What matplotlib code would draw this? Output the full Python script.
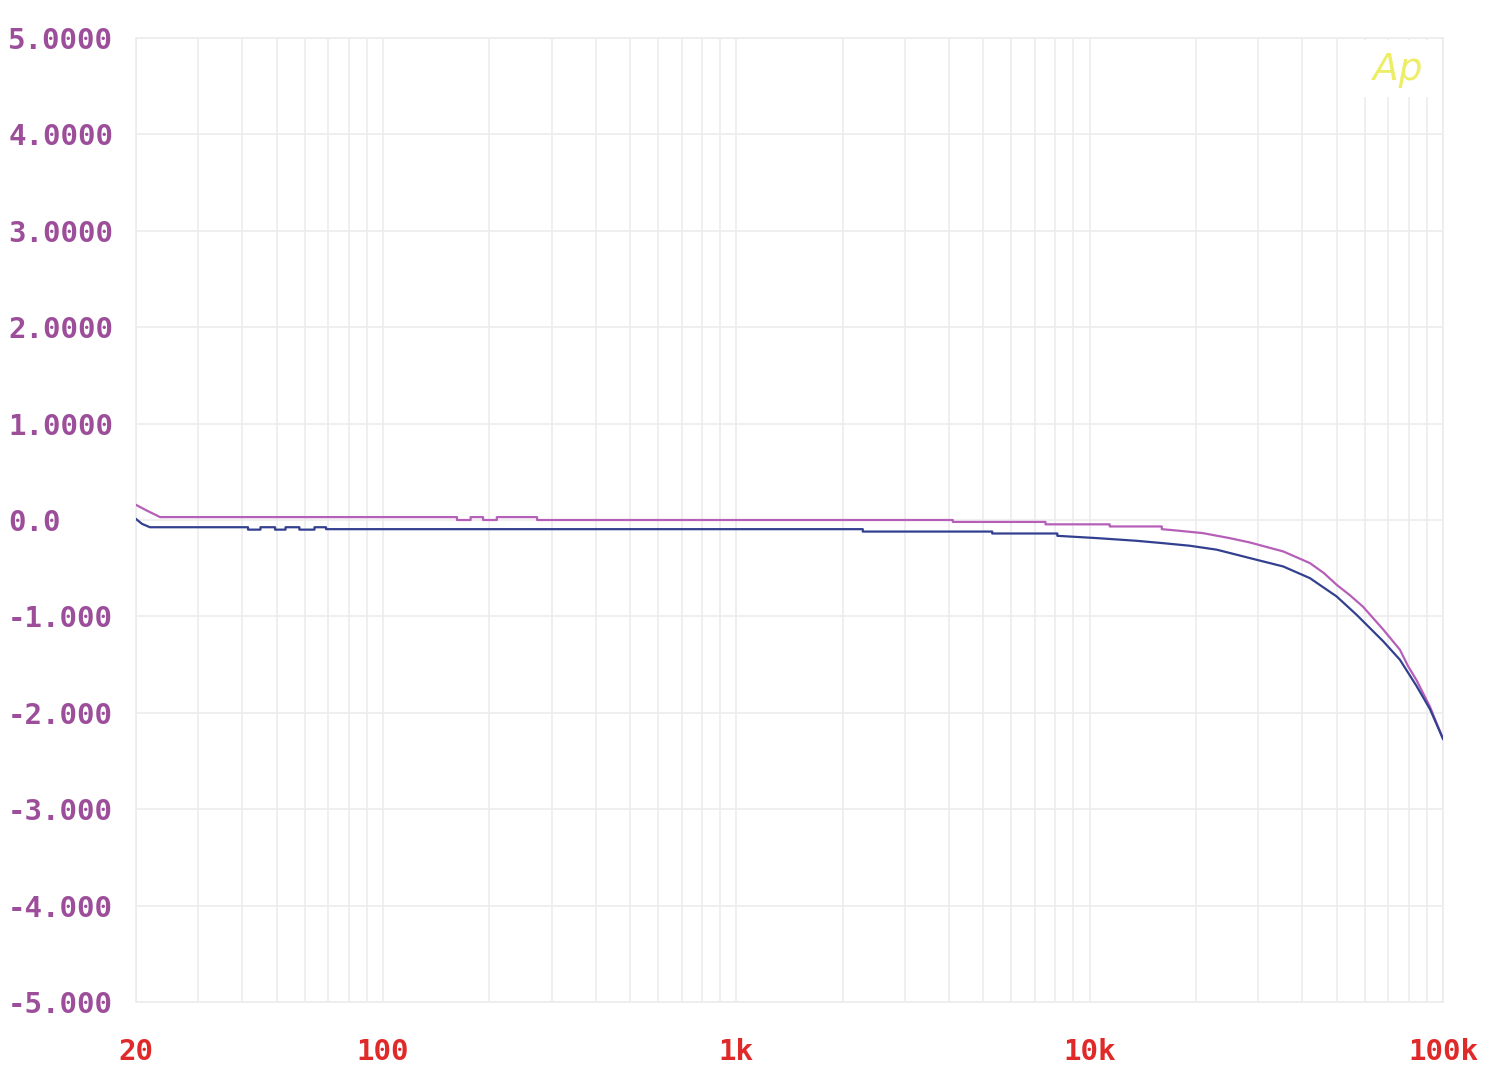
import matplotlib
matplotlib.use("Agg")
import matplotlib.pyplot as plt
from matplotlib.patches import Rectangle

# ---- data ----
mag_freq = [20, 21.4, 23.4, 162, 162, 177, 177, 192, 192, 210, 210, 273, 273,
            4100, 4100, 7500, 7500, 11400, 11400, 16000, 16000, 17600, 20900,
            24900, 28400, 35300, 42000, 46000, 50000, 54500, 59400, 67800, 75500, 79700,
            84100, 91800, 100000]
mag_db = [0.157, 0.10, 0.03, 0.03, 0.0, 0.0, 0.03, 0.03, 0.0, 0.0, 0.03, 0.03, 0.0,
          0.0, -0.02, -0.02, -0.045, -0.045, -0.067, -0.067, -0.095, -0.109, -0.136,
          -0.188, -0.233, -0.326, -0.447, -0.55, -0.672, -0.78, -0.90, -1.138, -1.345, -1.518,
          -1.66, -1.935, -2.27]

blue_freq = [20, 20.8, 21.9, 41.5, 41.5, 45, 45, 49.5, 49.5, 53, 53, 58, 58, 64, 64,
             69, 69, 2280, 2280, 5300, 5300, 8100, 8100, 10500, 13600, 16100, 19200,
             22900, 28400, 35300, 42000, 50000, 56900, 67800, 75500, 84100, 91800,
             100000]
blue_db = [0.01, -0.04, -0.075, -0.075, -0.10, -0.10, -0.075, -0.075, -0.10, -0.10,
           -0.075, -0.075, -0.10, -0.10, -0.075, -0.075, -0.095, -0.095, -0.12, -0.12,
           -0.14, -0.14, -0.164, -0.188, -0.216, -0.24, -0.267, -0.308, -0.395, -0.482,
           -0.603, -0.793, -0.982, -1.26, -1.449, -1.72, -1.96, -2.27]

y_ticks = [5, 4, 3, 2, 1, 0, -1, -2, -3, -4, -5]
y_labels = ["5.0000", "4.0000", "3.0000", "2.0000", "1.0000", "0.0",
            "-1.000", "-2.000", "-3.000", "-4.000", "-5.000"]
x_ticks = [20, 100, 1000, 10000, 100000]
x_labels = ["20", "100", "1k", "10k", "100k"]

# ---- styling ----
grid_col = "#ececec"
ylab_col = "#9c4e9a"
xlab_col = "#e02a2a"

fig = plt.figure(figsize=(15, 10.72), dpi=100)
ax = fig.add_axes([136/1500, 1 - 1002/1072, (1443-136)/1500, (1002-38)/1072])
ax.set_xscale("log")
ax.set_xlim(20, 100000)
ax.set_ylim(-5, 5)

# grid
minor = []
for dec in [10, 100, 1000, 10000]:
    for m in range(1, 10):
        v = dec * m
        if 20 <= v <= 100000:
            minor.append(v)
minor.append(100000)
for v in minor:
    ax.axvline(v, color=grid_col, lw=1.2, zorder=0)
for yv in y_ticks:
    ax.axhline(yv, color=grid_col, lw=1.2, zorder=0)

for s in ax.spines.values():
    s.set_color(grid_col)
    s.set_linewidth(1.2)

# logo box masks grid
ax.add_patch(Rectangle((0.925, 0.939), 0.073, 0.059, transform=ax.transAxes,
                       facecolor="white", edgecolor="none", zorder=1))
ax.text(0.9655, 0.967, "Ap", transform=ax.transAxes, ha="center", va="center",
        fontsize=27, color="#eeee66", style="italic", fontweight="light",
        family="DejaVu Sans", zorder=2)

ax.plot(mag_freq, mag_db, color="#b65fb8", lw=1.6, zorder=3)
ax.plot(blue_freq, blue_db, color="#33408f", lw=1.6, zorder=4)

ax.set_yticks(y_ticks)
ax.set_yticklabels(y_labels, family="DejaVu Sans Mono", fontweight="bold",
                   fontsize=21, color=ylab_col)
ax.tick_params(axis="y", length=0, pad=92)
for t in ax.get_yticklabels():
    t.set_horizontalalignment("left")

ax.set_xticks(x_ticks)
ax.set_xticklabels(x_labels, family="DejaVu Sans Mono", fontweight="bold",
                   fontsize=21, color=xlab_col)
ax.xaxis.set_minor_locator(matplotlib.ticker.NullLocator())
ax.tick_params(axis="x", length=0, pad=26)

fig.savefig("out.png", dpi=100, facecolor="white")
